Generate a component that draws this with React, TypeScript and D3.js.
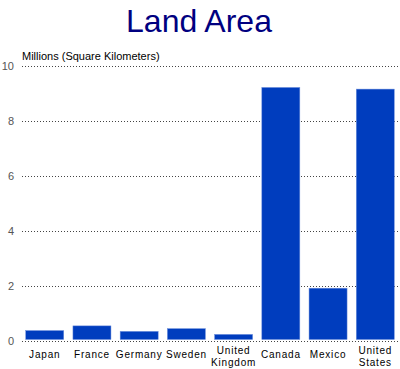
import * as d3 from 'd3'
import { useRef, useEffect } from 'react'

const countries = ['Japan', 'France', 'Germany', 'Sweden', 'United Kingdom', 'Canada', 'Mexico', 'United States']
const areas = [0.38, 0.55, 0.35, 0.45, 0.24, 9.22, 1.92, 9.16]
const yTicks = [0, 2, 4, 6, 8, 10]

export default function App() {
    const svgRef = useRef<SVGSVGElement>(null)
    const width = 400
    const height = 369

    useEffect(() => {
        const svg = d3.select(svgRef.current)
        svg.selectAll('*').remove()

        const font = 'Arial, "Liberation Sans", sans-serif'
        const xScale = d3.scaleBand()
            .domain(countries)
            .range([21, 399])
            .paddingInner(0.195)
            .paddingOuter(0.1)

        const yScale = d3.scaleLinear()
            .domain([0, 10])
            .range([341, 66])

        // title
        svg.append('text')
            .text('Land Area')
            .attr('x', 199)
            .attr('y', 32)
            .attr('text-anchor', 'middle')
            .attr('font-family', font)
            .attr('font-size', 32)
            .attr('fill', '#000080')

        svg.append('text')
            .text('Millions (Square Kilometers)')
            .attr('x', 22)
            .attr('y', 60)
            .attr('font-family', font)
            .attr('font-size', 11)
            .attr('fill', '#000')

        // gridlines
        const grid = svg.append('g')
        grid.selectAll('line')
            .data(yTicks)
            .join('line')
            .attr('x1', 22)
            .attr('x2', 400)
            .attr('y1', d => yScale(d) + 0.5)
            .attr('y2', d => yScale(d) + 0.5)
            .attr('stroke', '#444')
            .attr('stroke-width', 1)
            .attr('stroke-dasharray', '1,2')

        grid.selectAll('text')
            .data(yTicks)
            .join('text')
            .text(d => d)
            .attr('x', 14)
            .attr('y', d => yScale(d) + 4)
            .attr('text-anchor', 'end')
            .attr('font-family', font)
            .attr('font-size', 11)
            .attr('fill', '#555')

        // bars
        svg.append('g')
            .selectAll('rect')
            .data(areas)
            .join('rect')
            .attr('x', (d, i) => xScale(countries[i])!)
            .attr('width', xScale.bandwidth())
            .attr('y', d => yScale(d))
            .attr('height', d => yScale(0) - 1.5 - yScale(d))
            .attr('fill', '#003DBE')
            .attr('stroke', '#6f8fdc')
            .attr('stroke-width', 0.5)

        // category labels
        const labels = svg.append('g')
            .selectAll('text')
            .data(countries)
            .join('text')
            .attr('text-anchor', 'middle')
            .attr('font-family', font)
            .attr('font-size', 10)
            .attr('letter-spacing', 0.8)
            .attr('fill', '#000')
            .attr('transform', d => `translate(${xScale(d)! + xScale.bandwidth() / 2},0)`)

        labels.each(function (d) {
            const words = d.split(' ')
            const t = d3.select(this)
            if (words.length === 1) {
                t.append('tspan').attr('x', 0).attr('y', 358).text(d)
            } else {
                t.append('tspan').attr('x', 0).attr('y', 354).text(words[0])
                t.append('tspan').attr('x', 0).attr('y', 366).text(words[1])
            }
        })
    }, [])

    return (
        <svg ref={svgRef} width={width} height={height} style={{ position: 'absolute', left: 0, top: 0, background: '#fff' }}>
        </svg>
    )
}
